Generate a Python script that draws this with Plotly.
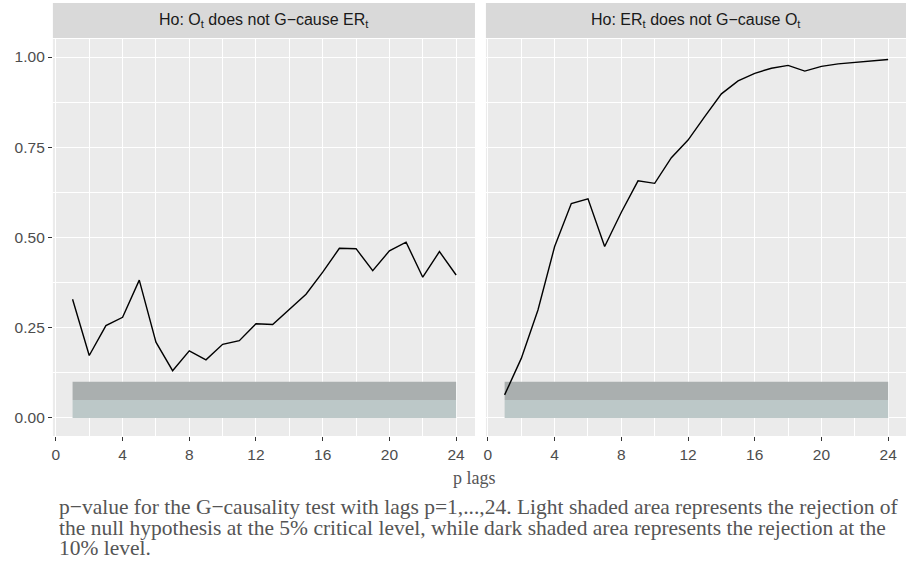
import plotly.graph_objects as go

W, H = 906, 565

lags = list(range(1, 25))
p_o_to_er = [0.329, 0.173, 0.256, 0.279, 0.382, 0.210, 0.131, 0.186, 0.161, 0.204,
             0.214, 0.261, 0.259, 0.301, 0.343, 0.404, 0.470, 0.469, 0.408, 0.463,
             0.487, 0.390, 0.461, 0.396]
p_er_to_o = [0.064, 0.165, 0.299, 0.475, 0.594, 0.607, 0.475, 0.570, 0.657, 0.650,
             0.721, 0.770, 0.835, 0.898, 0.934, 0.955, 0.969, 0.977, 0.961, 0.974,
             0.981, 0.985, 0.989, 0.993]
panel_titles = ["Ho: O<sub>t</sub> does not G\u2212cause ER<sub>t</sub>",
                "Ho: ER<sub>t</sub> does not G\u2212cause O<sub>t</sub>"]
x_ticks = [0, 4, 8, 12, 16, 20, 24]
y_ticks = [0.0, 0.25, 0.5, 0.75, 1.0]
y_tick_labels = ["0.00", "0.25", "0.50", "0.75", "1.00"]
band_5 = (0.0, 0.05)
band_10 = (0.05, 0.10)
band_x = (1, 24)
x_title = "p lags"
caption_lines = [
    "p\u2212value for the G\u2212causality test with lags p=1,...,24. Light shaded area represents the rejection of",
    "the null hypothesis at the 5% critical level, while dark shaded area represents the rejection at the",
    "10% level.",
]

def px_x(p):
    return p / W

def px_y(p):
    return 1 - p / H

panel_top, panel_bot = 39, 436
left_dom = (51, 474)
right_dom = (485, 906)

fig = go.Figure()
for i, vals in enumerate([p_o_to_er, p_er_to_o]):
    xa = "x" if i == 0 else "x2"
    ya = "y" if i == 0 else "y2"
    fig.add_trace(go.Scatter(x=lags, y=vals, mode="lines", xaxis=xa, yaxis=ya,
                             line=dict(color="black", width=1.4), showlegend=False,
                             hoverinfo="skip"))

shapes = []
for i in range(2):
    xr = "x" if i == 0 else "x2"
    yr = "y" if i == 0 else "y2"
    shapes.append(dict(type="rect", xref=xr, yref=yr, x0=band_x[0], x1=band_x[1],
                       y0=band_5[0], y1=band_5[1], fillcolor="#BCC8C8",
                       line=dict(width=0), layer="between"))
    shapes.append(dict(type="rect", xref=xr, yref=yr, x0=band_x[0], x1=band_x[1],
                       y0=band_10[0], y1=band_10[1], fillcolor="#AAAFAF",
                       line=dict(width=0), layer="between"))
    dom = left_dom if i == 0 else right_dom
    shapes.append(dict(type="rect", xref="paper", yref="paper",
                       x0=px_x(dom[0]), x1=px_x(dom[1]), y0=px_y(38), y1=px_y(3),
                       fillcolor="#D9D9D9", line=dict(width=0), layer="below"))

annotations = []
for i in range(2):
    dom = left_dom if i == 0 else right_dom
    annotations.append(dict(text=panel_titles[i], xref="paper", yref="paper",
                            x=px_x((dom[0] + (dom[1] if i == 0 else 907)) / 2), y=px_y(20.5),
                            showarrow=False, xanchor="center", yanchor="middle",
                            font=dict(family="Liberation Sans", size=16, color="#1A1A1A")))
annotations.append(dict(text=x_title, xref="paper", yref="paper", x=px_x(474), y=px_y(478),
                        showarrow=False, xanchor="center", yanchor="middle",
                        font=dict(family="Liberation Serif", size=18, color="#555555")))
for k, line in enumerate(caption_lines):
    annotations.append(dict(text=line, xref="paper", yref="paper", x=px_x(55), y=px_y(507 + 20.5 * k),
                            showarrow=False, xanchor="left", yanchor="middle",
                            font=dict(family="Liberation Serif", size=21.5, color="#555555")))

tick_font = dict(family="Liberation Sans", size=15.5, color="#4D4D4D")
common_x = dict(tickmode="array", tickvals=x_ticks, ticktext=[str(v) for v in x_ticks],
                showgrid=True, gridcolor="white", gridwidth=1.1, zeroline=False,
                ticks="outside", ticklen=4, tickwidth=1.1, tickcolor="#333333",
                tickfont=tick_font,
                minor=dict(tickmode="array", tickvals=[2, 6, 10, 14, 18, 22], showgrid=True,
                           gridcolor="white", gridwidth=0.55, ticks=""),
                showline=False, fixedrange=True)
common_y = dict(range=[-0.05, 1.05], showgrid=True, gridcolor="white", gridwidth=1.1,
                zeroline=False, showline=False,
                minor=dict(tickmode="array", tickvals=[0.125, 0.375, 0.625, 0.875], showgrid=True,
                           gridcolor="white", gridwidth=0.55, ticks=""),
                domain=[px_y(panel_bot), px_y(panel_top)], fixedrange=True)

fig.update_layout(
    width=W, height=H, margin=dict(l=0, r=0, t=0, b=0),
    paper_bgcolor="white", plot_bgcolor="#EBEBEB",
    xaxis=dict(common_x, domain=[px_x(left_dom[0]), px_x(left_dom[1])], range=[-0.18, 25.13], anchor="y"),
    xaxis2=dict(common_x, domain=[px_x(right_dom[0]), px_x(right_dom[1])], range=[-0.12, 25.07], anchor="y2"),
    yaxis=dict(common_y, anchor="x", tickmode="array", tickvals=y_ticks, ticktext=y_tick_labels,
               ticks="outside", ticklen=4, tickwidth=1.1, tickcolor="#333333",
               tickfont=tick_font),
    yaxis2=dict(common_y, anchor="x2", tickmode="array", tickvals=y_ticks, showticklabels=False,
                ticks=""),
    shapes=shapes, annotations=annotations,
)

fig.write_html("out.html")
